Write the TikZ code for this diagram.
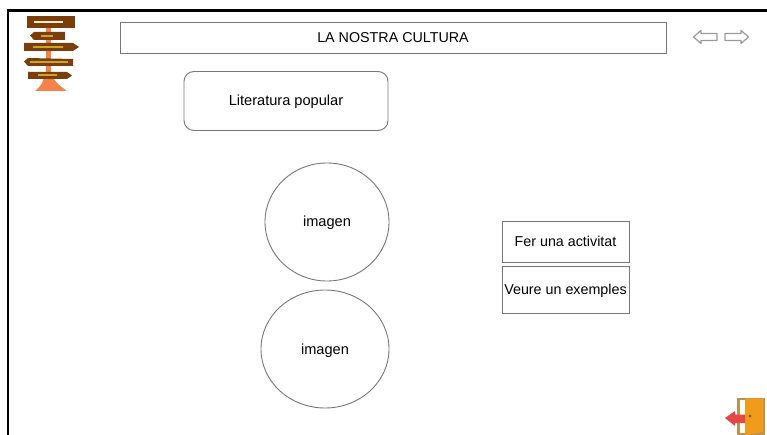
\documentclass[tikz,border=0pt]{standalone}
\usepackage{fontspec}
\usetikzlibrary{shapes.geometric}
\setmainfont{Liberation Sans}
\definecolor{edge}{RGB}{120,120,120}
\definecolor{signbrown}{RGB}{122,62,10}
\definecolor{post}{RGB}{245,130,75}
\definecolor{signtext}{RGB}{205,165,30}
\definecolor{doorfill}{RGB}{240,155,25}
\definecolor{doorframe}{RGB}{190,145,80}
\definecolor{exitred}{RGB}{230,70,70}
\newcommand{\lowered}[1]{\raisebox{-5pt}[0pt][0pt]{#1}}
\tikzset{
  shapebox/.style={draw=edge,line width=0.9pt,fill=white,inner sep=0pt,font=\fontsize{14.3}{16}\selectfont,align=center},
  frameline/.style={draw=black,line width=2.2pt},
  navarrow/.style={draw=edge!75,line width=1.2pt,fill=white,line join=round},
  signboard/.style={fill=signbrown},
  signbar/.style={draw=signtext,line width=2pt,dash pattern=on 2.5pt off 0.5pt}
}
\begin{document}
\begin{tikzpicture}[x=1pt,y=-1pt]
\useasboundingbox (0,0) rectangle (767,435);
\fill[white] (0,0) rectangle (767,435);
\coordinate (frameTR) at (767,10.5);
\coordinate (frameTL) at (8,10.5);
\coordinate (frameBL) at (8,435);
\draw[frameline] (frameTR) -- (frameTL) -- (frameBL);
% title
\node[shapebox,minimum width=546pt,minimum height=31pt] (title) at (393,38) {\lowered{LA NOSTRA CULTURA}};
% sub title
\node[shapebox,rounded corners=10pt,minimum width=204pt,minimum height=59pt,font=\fontsize{14.6}{16}\selectfont] (lit) at (286,101) {\lowered{Literatura popular}};
% images
\node[shapebox,ellipse,minimum width=124pt,minimum height=118pt,font=\fontsize{14.6}{16}\selectfont] (img1) at (327,222) {\lowered{imagen}};
\node[shapebox,ellipse,minimum width=128pt,minimum height=118pt,font=\fontsize{14.6}{16}\selectfont] (img2) at (325,349) {\lowered{imagen}};
% buttons
\node[shapebox,minimum width=127pt,minimum height=41pt] (act) at (565.5,242) {\lowered{Fer una activitat}};
\node[shapebox,minimum width=127pt,minimum height=47pt] (ex) at (565.5,290) {\lowered{Veure un exemples}};
% nav arrows
\draw[navarrow] (693.5,37) -- (701,30.5) -- (701,33.5) -- (717,33.5) -- (717,40.5) -- (701,40.5) -- (701,43.5) -- cycle;
\draw[navarrow] (748.5,37) -- (741,30.5) -- (741,33.5) -- (725,33.5) -- (725,40.5) -- (741,40.5) -- (741,43.5) -- cycle;
% signpost
\fill[post] (45.5,28) rectangle (50.5,82);
\fill[post] (35,91) .. controls (42,86) and (44,80) .. (45,72) -- (51,72) .. controls (52,80) and (60,86) .. (67,91) -- cycle;
\fill[signboard] (27,16) rectangle (75,28.5);
\fill[signboard] (30,35.5) -- (34,32) -- (65,32) -- (65,40) -- (34,40) -- cycle;
\fill[signboard] (24,43) -- (73,43) -- (79,47) -- (73,51) -- (24,51) -- cycle;
\fill[signboard] (24,61.5) -- (28,58) -- (73,59) -- (73,66) -- (28,66) -- cycle;
\fill[signboard] (28,72) -- (67,72) -- (72,75.5) -- (67,79) -- (28,79) -- cycle;
\draw[signbar,draw=white!75!signtext] (34,22) -- (63,22);
\draw[signbar] (41,35.8) -- (53,35.8);
\draw[signbar] (33,47) -- (63,47);
\draw[signbar] (30,62) -- (68,62);
\draw[signbar] (38,75.5) -- (57,75.5);
% exit door
\fill[doorframe] (737,397.5) rectangle (764.5,435);
\fill[white] (739.5,400) rectangle (745,432.5);
\fill[doorfill] (745,398.5) -- (763,398.5) -- (763,432) -- (745,435) -- cycle;
\fill[signbrown] (750,416) circle (1.3pt);
\fill[exitred] (725,418) -- (735,411) -- (735,414.5) -- (745,414.5) -- (745,423) -- (735,423) -- (735,426) -- cycle;
\end{tikzpicture}
\end{document}
